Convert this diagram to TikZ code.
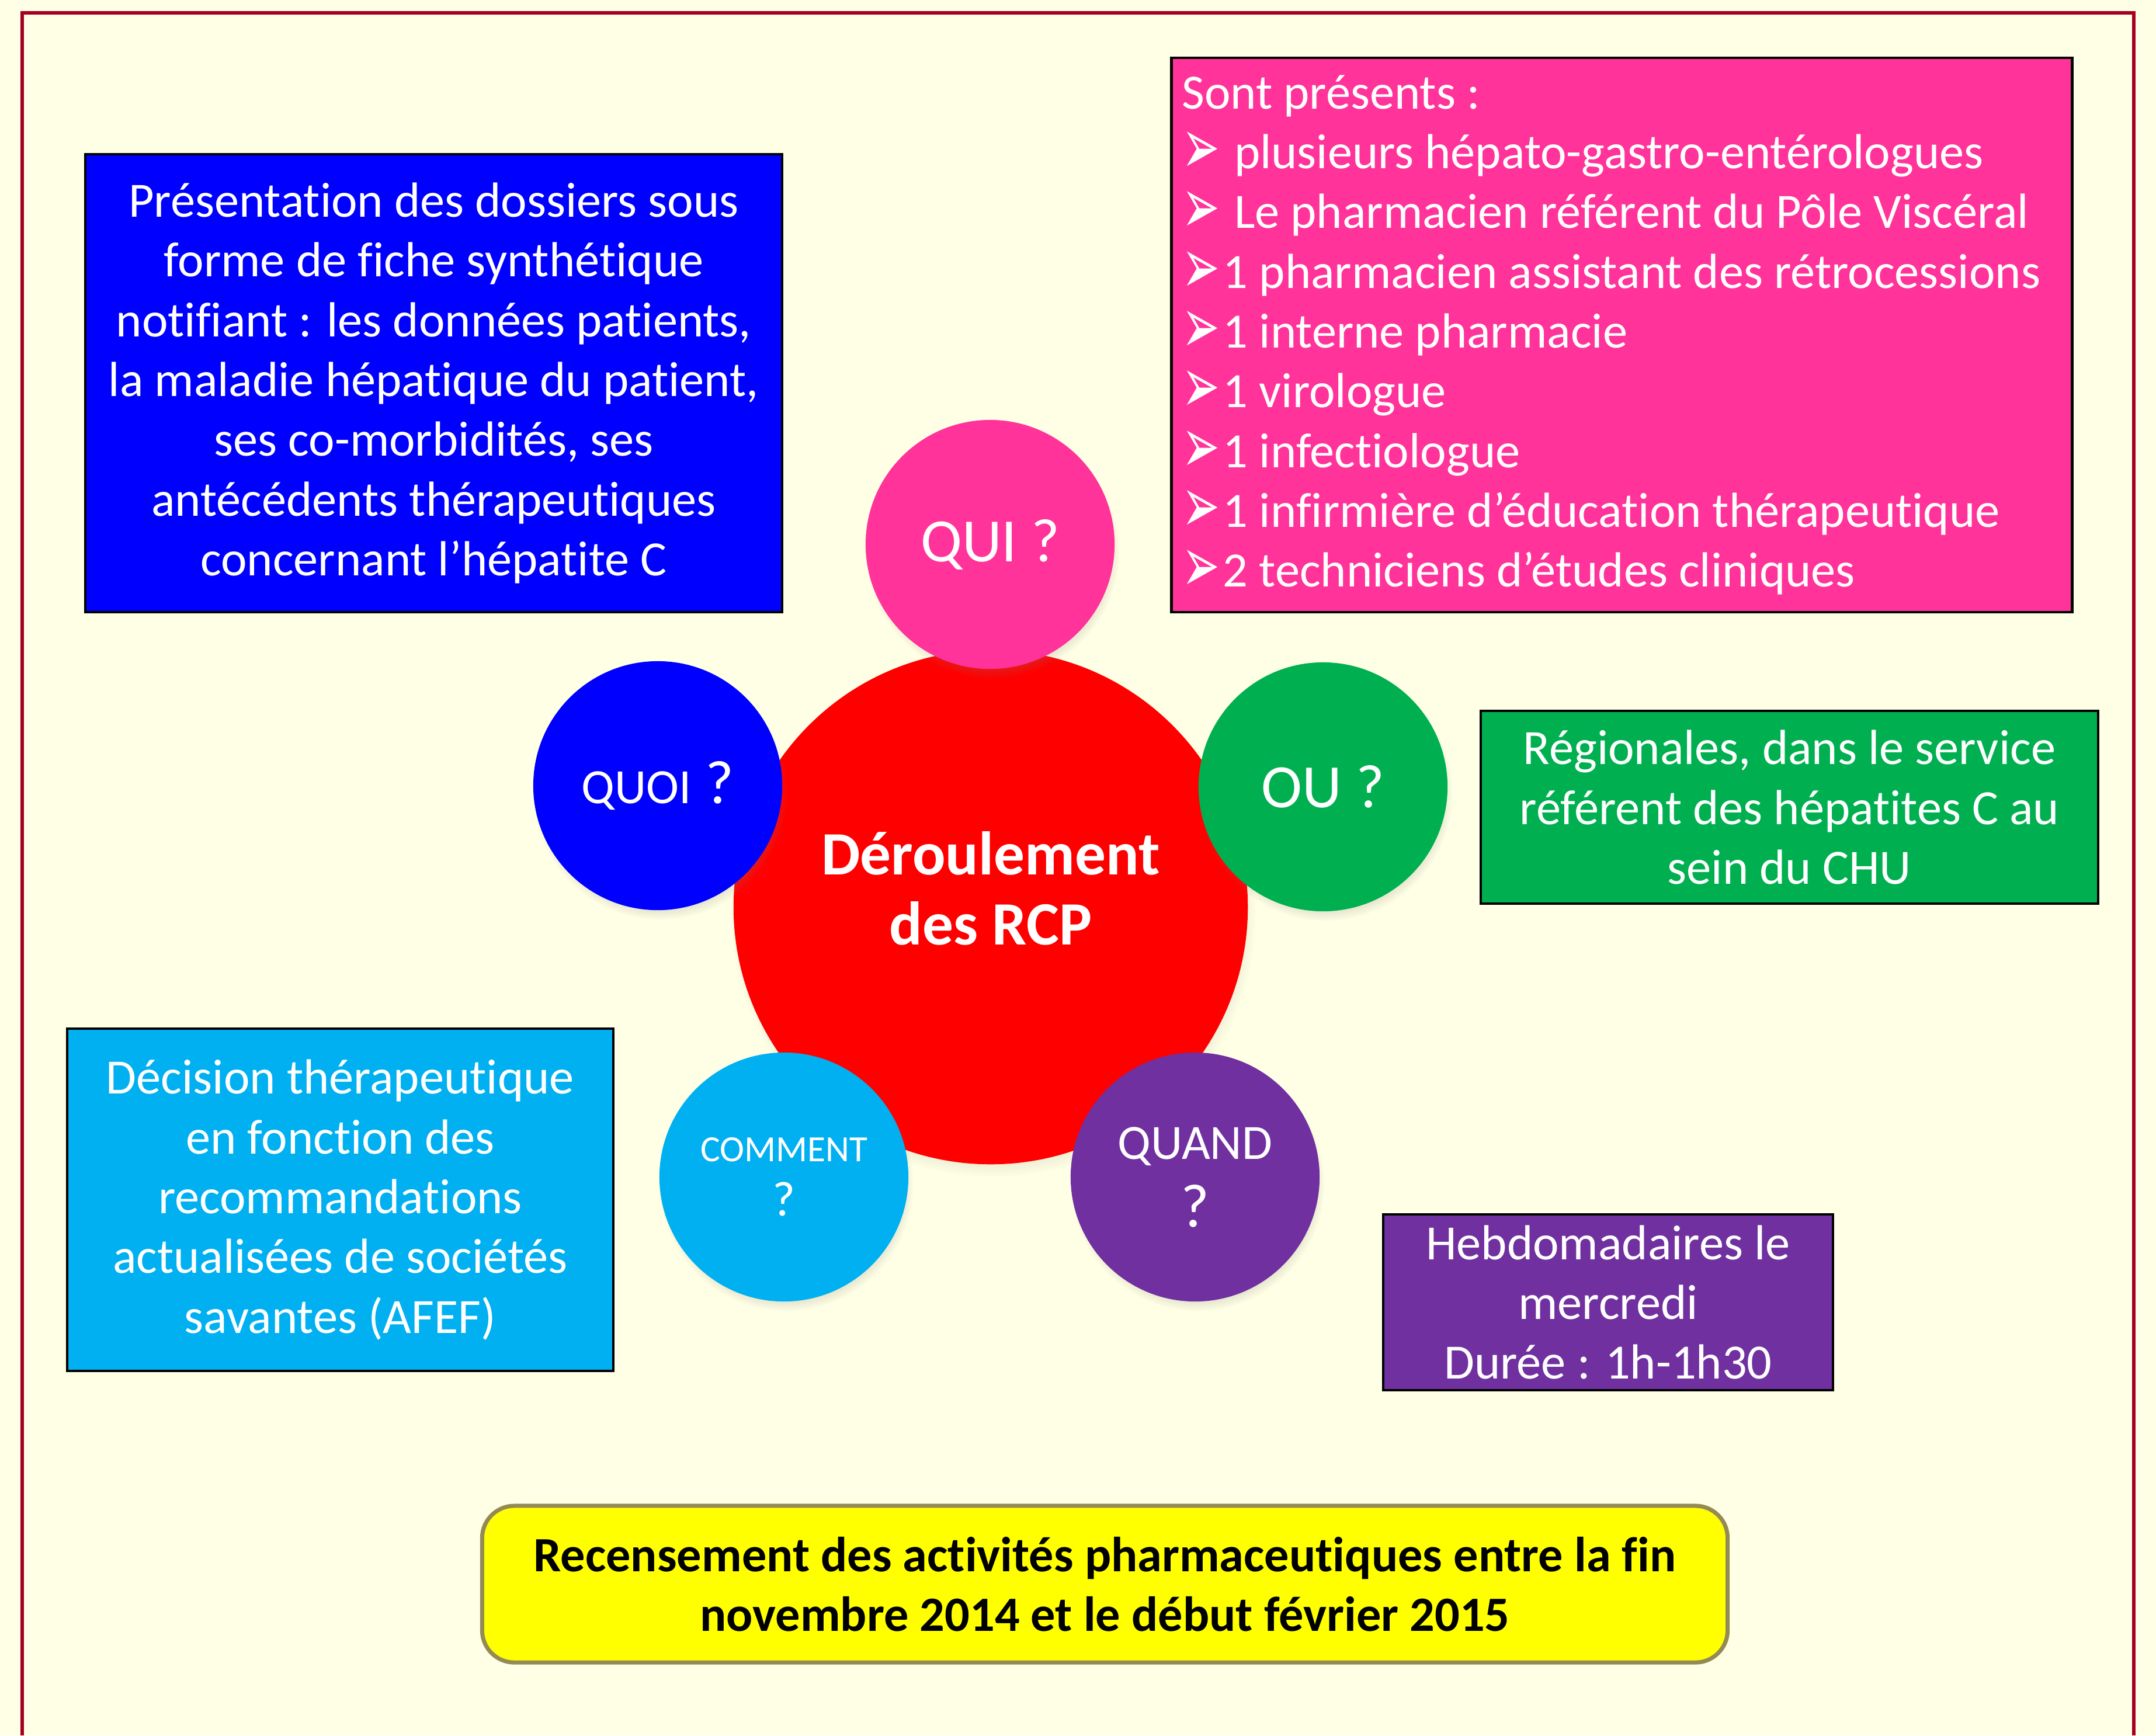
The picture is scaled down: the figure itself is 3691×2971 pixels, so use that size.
\documentclass[tikz,border=0pt]{standalone}
\usepackage{fontspec}
\setmainfont{Carlito}[Ligatures=NoCommon]
\newfontfamily\symbfont{DejaVu Sans}
\usepackage{graphicx}
\usepackage{xcolor}
\usepackage{tikz}
\usetikzlibrary{shadows}

\definecolor{fondpage}{HTML}{FFFFE5}
\definecolor{cadrerouge}{HTML}{A50021}
\definecolor{rcprose}{HTML}{FF3399}
\definecolor{rcpbleu}{HTML}{0000FF}
\definecolor{rcpvert}{HTML}{00B050}
\definecolor{rcpciel}{HTML}{00B0F0}
\definecolor{rcpviolet}{HTML}{7030A0}
\definecolor{rcprouge}{HTML}{FF0000}
\definecolor{rcpjaune}{HTML}{FFFF00}
\definecolor{rcpolive}{HTML}{948A54}

\newcommand{\puce}{\makebox[20pt][l]{\raisebox{-2.5pt}{\symbfont\scalebox{0.92}[1.6]{➢}}}}
\newcommand{\taille}[2]{\fontsize{#1}{#2}\selectfont}

\begin{document}
\begin{tikzpicture}[x=0.01cm, y=-0.01cm,
    every node/.style={font=\taille{24}{29.1}, text=white},
    bubble/.style={circle, minimum size=4.26cm, inner sep=0pt, align=center,
        circular drop shadow={shadow xshift=0.4mm, shadow yshift=-1.2mm, shadow scale=1.02, opacity=0.35}},
    infobox/.style={rectangle, draw=black, line width=1.2pt, align=center}]
    \useasboundingbox (0,0) rectangle (3691,2971);
    \fill[fondpage] (0,0) rectangle (3691,2971);
    % cadre ouvert en bas
    \draw[cadrerouge, line width=1.7pt] (38,2971) -- (38,22) -- (3653,22) -- (3653,2971);

    % les encadres de texte
    \node[infobox, fill=rcpbleu, minimum width=11.93cm, minimum height=7.84cm] (quoiBox) at (742.5,656)
        {Présentation des dossiers sous\\forme de fiche synthétique\\notifiant : les données patients,\\la maladie hépatique du patient,\\ses co-morbidités, ses\\antécédents thérapeutiques\\concernant l’hépatite C};
    \node[infobox, fill=rcprose, minimum width=15.41cm, minimum height=9.49cm, inner sep=0.18cm,
        text width=15.05cm, align=flush left] (quiBox) at (2776.5,573.5)
        {Sont présents :\\
         \puce{} plusieurs hépato-gastro-entérologues\\
         \puce{} Le pharmacien référent du Pôle Viscéral\\
         \puce{}1 pharmacien assistant des rétrocessions\\
         \puce{}1 interne pharmacie\\
         \puce{}1 virologue\\
         \puce{}1 infectiologue\\
         \puce{}1 infirmière d’éducation thérapeutique\\
         \puce{}2 techniciens d’études cliniques};
    \node[infobox, fill=rcpvert, minimum width=10.57cm, minimum height=3.30cm] (ouBox) at (3063.5,1382)
        {Régionales, dans le service\\référent des hépatites C au\\sein du CHU};
    \node[infobox, fill=rcpciel, minimum width=9.35cm, minimum height=5.86cm] (commentBox) at (582.5,2054)
        {Décision thérapeutique\\en fonction des\\recommandations\\actualisées de sociétés\\savantes (AFEF)};
    \node[infobox, fill=rcpviolet, minimum width=7.70cm, minimum height=3.01cm] (quandBox) at (2753,2229.5)
        {Hebdomadaires le\\mercredi\\Durée : 1h-1h30};

    % cercle central puis les questions
    \node[bubble, fill=rcprouge, minimum size=8.8cm, font=\bfseries\taille{30}{34}] (rcp) at (1696,1553)
        {Déroulement\\des RCP\rule[-0.65cm]{0pt}{0pt}};
    \node[bubble, fill=rcprose, font=\taille{30}{36}] (qui) at (1695,932) {QUI ?};
    \node[bubble, fill=rcpvert, font=\taille{30}{36}] (ou) at (2265,1347) {OU ?};
    \node[bubble, fill=rcpbleu, font=\taille{30}{36}] (quoi) at (1126,1345) {{\taille{24}{29}QUOI} ?};
    \node[bubble, fill=rcpciel, font=\taille{24}{26.4}] (comment) at (1342,2015) {{\taille{18}{22}COMMENT}\\?};
    \node[bubble, fill=rcpviolet, font=\taille{24}{33}] (quand) at (2046,2015) {QUAND\\{\taille{30}{33}?}};

    % bandeau du bas
    \node[rectangle, rounded corners=0.55cm, draw=rcpolive, line width=2pt, fill=rcpjaune, text=black,
        align=center, minimum width=21.31cm, minimum height=2.68cm, font=\bfseries\taille{24}{29.1}] (bilan) at (1891.5,2712)
        {Recensement des activités pharmaceutiques entre la fin\\novembre 2014 et le début février 2015};
\end{tikzpicture}
\end{document}
